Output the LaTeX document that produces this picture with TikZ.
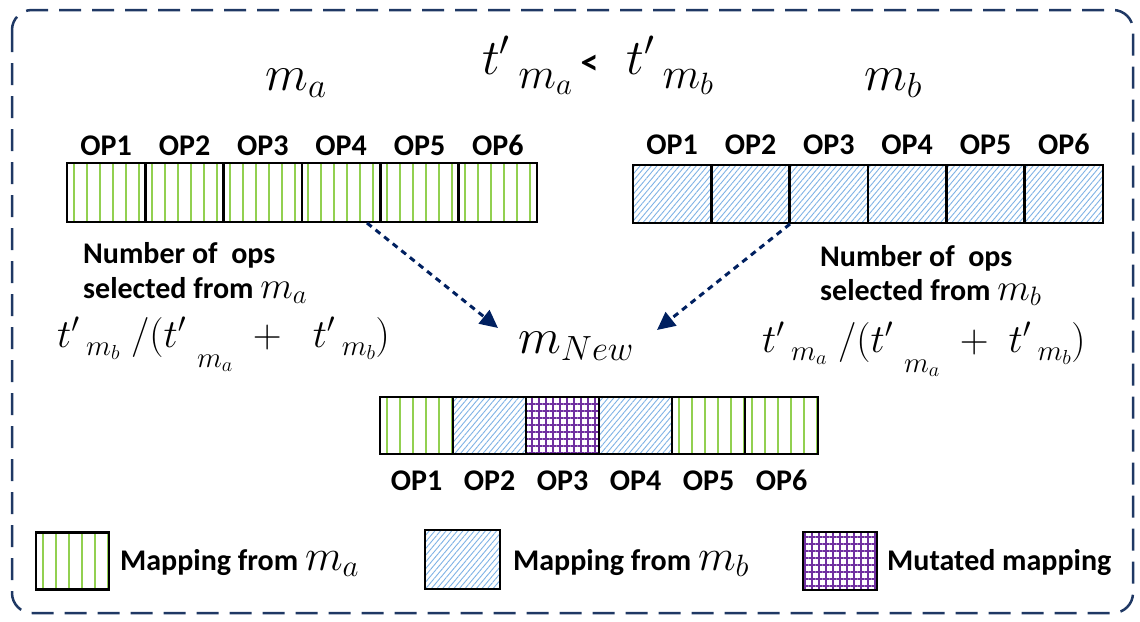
\documentclass[tikz,border=0pt]{standalone}
\usepackage{fix-cm}
\usepackage{fontspec}
\setmainfont{Carlito}
\usetikzlibrary{patterns.meta,arrows.meta,calc}
\definecolor{navy}{HTML}{1F3864}
\definecolor{arrnavy}{HTML}{002060}
\definecolor{lgreen}{HTML}{92D050}
\definecolor{hblue}{HTML}{7FB2E5}
\definecolor{mpurple}{HTML}{7030A0}
% lowered, near full size subscript
\newcommand\lsub[3]{\lower#1\hbox{\fontsize{#2}{#2}\selectfont$#3$}}
\begin{document}
\begin{tikzpicture}[x=1pt,y=-1pt,
  lbl/.style={font=\fontsize{30}{34}\selectfont\bfseries, inner sep=0pt},
  bigm/.style={font=\fontsize{50}{56}\selectfont, inner sep=0pt},
  midm/.style={font=\fontsize{40}{46}\selectfont, inner sep=0pt},
  cellbase/.style={rectangle, draw=black, line width=2.5pt, inner sep=0pt},
  gcell/.style={cellbase, path picture={
      \foreach \k in {0,...,5}
        \draw[lgreen, line width=2pt]
          ([xshift={(6.5+\k*13)*1pt}]path picture bounding box.south west) --
          ([xshift={(6.5+\k*13)*1pt}]path picture bounding box.north west);}},
  bcell/.style={cellbase, pattern={Lines[angle=50,distance=4.3pt,line width=0.9pt]}, pattern color=hblue},
  pcell/.style={cellbase, pattern={Hatch[angle=0,distance=7pt,line width=1.3pt]}, pattern color=mpurple},
  flow/.style={draw=arrnavy, line width=3pt, dash pattern=on 6pt off 5pt, -{Triangle[length=18pt,width=17pt]}},
  frame/.style={draw=navy, line width=2.5pt, dash pattern=on 22pt off 11pt, rounded corners=20pt}]
\useasboundingbox (0,0) rectangle (1140,621);
\draw[frame] (12,10) rectangle (1133,613);

% top labels
\node[bigm, anchor=base] (ma) at (296,90) {$m_a$};
\node[bigm, anchor=base west] (cmp) at (482,74) {$t'\,\lsub{14pt}{44}{m_a}\,\mbox{\fontsize{36}{40}\selectfont\bfseries<}\;\;t'\,\lsub{14pt}{44}{m_b}$};
\node[bigm, anchor=base] (mb) at (893,90) {$m_b$};

% left array (m_a)
\foreach \i in {1,...,6}{
  \node[gcell, minimum width=78.33pt, minimum height=59pt] (a\i) at ({67+78.33*(\i-0.5)},192.5) {};
  \node[lbl, anchor=base] (al\i) at ({67+78.33*(\i-0.5)},155) {OP\i};
}
% right array (m_b)
\foreach \i in {1,...,6}{
  \node[bcell, minimum width=78.33pt, minimum height=58pt] (b\i) at ({633+78.33*(\i-0.5)},194) {};
  \node[lbl, anchor=base] (bl\i) at ({633+78.33*(\i-0.5)},154) {OP\i};
}
% new array
\foreach \i/\s in {1/gcell,2/bcell,3/pcell,4/bcell,5/gcell,6/gcell}{
  \node[\s, minimum width=73pt, minimum height=57pt] (n\i) at ({380+73*(\i-0.5)},425.5) {};
  \node[lbl, anchor=base] (nl\i) at ({380+73*(\i-0.5)},490) {OP\i};
}

% selection texts
\node[lbl, anchor=base west] (na1) at (83,263) {Number of\ \ ops};
\node[lbl, anchor=base west] (na2) at (83,298) {selected from {\fontsize{38}{40}\selectfont\mdseries$m_a$}};
\node[lbl, anchor=base west] (nb1) at (820,266) {Number of\ \ ops};
\node[lbl, anchor=base west] (nb2) at (820,300) {selected from {\fontsize{38}{40}\selectfont\mdseries$m_b$}};

% formulas
\node[midm, anchor=base west] (fa) at (57,347)
  {$t'\,\lsub{8pt}{29}{m_b}\;/(t'\;\lsub{20pt}{29}{m_a}\;+\;\;t'\,\lsub{8pt}{29}{m_b})$};
\node[midm, anchor=base west] (fb) at (762,352)
  {$t'\,\lsub{8pt}{29}{m_a}\;/(t'\;\lsub{20pt}{29}{m_a}\;+\;t'\,\lsub{8pt}{29}{m_b})$};

% m_New
\node[bigm, anchor=base] (mn) at (576,353) {$m_{New}$};

% arrows
\coordinate (ls) at (367,223);
\coordinate (lt) at (498,328);
\coordinate (rs) at (790,224);
\coordinate (rt) at (657,330);
\draw[flow] (ls) -- (lt);
\draw[flow] (rs) -- (rt);

% legend
\node[gcell, minimum width=73pt, minimum height=57pt] (lg1) at (72.5,561) {};
\node[lbl, anchor=base west] (lt1) at (120,570) {Mapping from {\fontsize{44}{48}\selectfont\mdseries$m_a$}};
\node[bcell, minimum width=75pt, minimum height=59pt] (lg2) at (462.5,559.5) {};
\node[lbl, anchor=base west] (lt2) at (513,570) {Mapping from {\fontsize{44}{48}\selectfont\mdseries$m_b$}};
\node[pcell, minimum width=74pt, minimum height=58pt] (lg3) at (840,561) {};
\node[lbl, anchor=base west] (lt3) at (887,570) {Mutated mapping};
\end{tikzpicture}
\end{document}
